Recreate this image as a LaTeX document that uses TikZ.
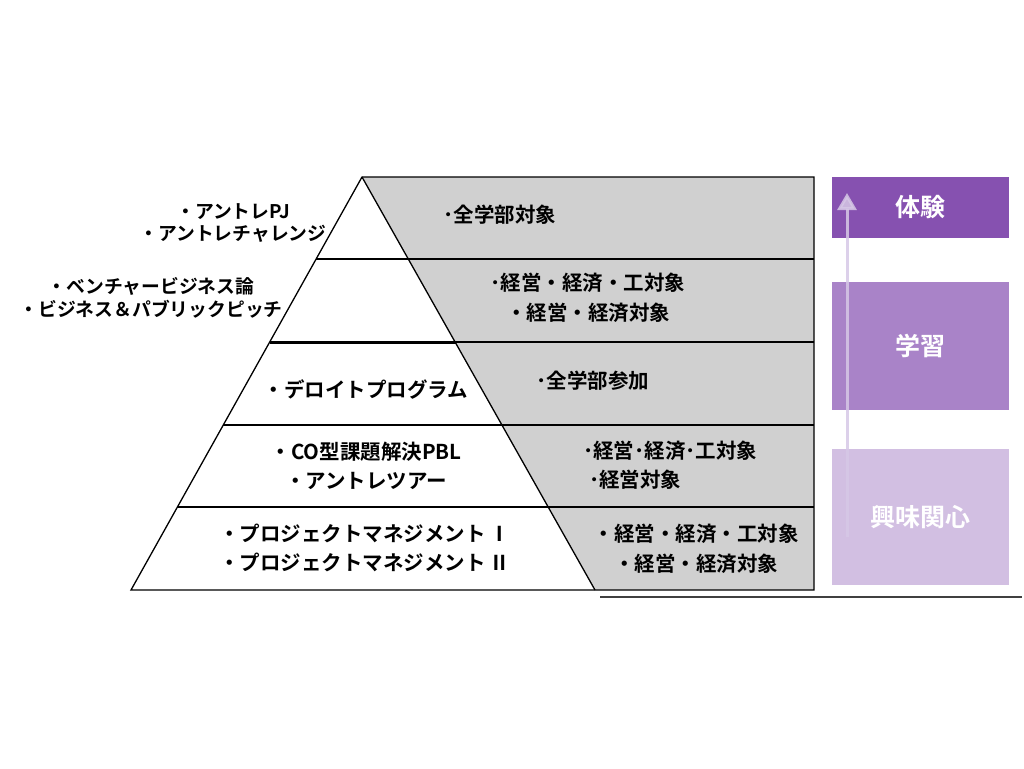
\documentclass[tikz,border=0pt]{standalone}
\usepackage{fontspec}
\setmainfont{Noto Sans CJK JP}[BoldFont={Noto Sans CJK JP Bold}]
\usetikzlibrary{arrows.meta}
\definecolor{tiergray}{HTML}{D0D0D0}
\definecolor{purpA}{HTML}{8651B0}
\definecolor{purpB}{HTML}{A983C8}
\definecolor{purpC}{HTML}{D2BFE2}
\definecolor{arrowc}{HTML}{D6C8E6}
\tikzset{
  x=1pt, y=-1pt,
  edge/.style={line width=1.3pt, black},
  lbl/.style={font=\fontsize{20.5}{29.5}\selectfont\bfseries, align=center, inner sep=0pt},
  lbls/.style={lbl, font=\fontsize{18.8}{22.8}\selectfont\bfseries},
  lbll/.style={lbl, align=left, anchor=west},
  stagelbl/.style={lbl, text=white, font=\fontsize{25}{28}\selectfont\bfseries},
}
\begin{document}
\begin{tikzpicture}
\useasboundingbox (0,0) rectangle (1024,768);
% gray region
\fill[tiergray] (362,177) -- (814,177) -- (814,590) -- (595,590) -- cycle;
% corner coordinates
\coordinate (apex) at (362,177);
\coordinate (bl) at (131,590);
\coordinate (br) at (595,590);
\coordinate (tr) at (814,177);
\coordinate (rbr) at (814,590);
% outline
\draw[edge] (apex) -- (bl) -- (rbr) -- (tr) -- cycle;
\draw[edge] (apex) -- (br);
% tier lines
\draw[edge] (315.8,259) -- (814,259);
\draw[edge] (269.6,342) -- (814,342);
\draw[line width=3pt] (269.6,342) -- (455.6,342);
\draw[edge] (223.2,425) -- (814,425);
\draw[edge] (177.4,507) -- (814,507);
% bottom shadow line
\draw[line width=1.5pt, black!75] (600,597) -- (1022,597);

% left texts
\node[lbls] (t1) at (233,223) {・アントレPJ\\・アントレチャレンジ};
\node[lbls] (t2) at (151,297.5) {・ベンチャービジネス論\\・ビジネス＆パブリックピッチ};
\node[lbl] (t3) at (366,389) {・デロイトプログラム};
\node[lbl] (t4) at (366,466) {・CO型課題解決PBL\\・アントレツアー};
\node[lbll] (t5) at (219,548) {・プロジェクトマネジメント\,Ⅰ\\・プロジェクトマネジメント\,Ⅱ};
% right texts
\node[lbl] (r1) at (500,215) {･全学部対象};
\node[lbl] (r2) at (588,298) {･経営・経済・工対象\\・経営・経済対象};
\node[lbl] (r3) at (593,381) {･全学部参加};
\node[lbll] (r4) at (583,465) {･経営･経済･工対象\\\hspace{6pt}･経営対象};
\node[lbl] (r5) at (696,549) {・経営・経済・工対象\\・経営・経済対象};

% stage boxes
\fill[purpA] (832,177) rectangle (1009,238);
\fill[purpB] (832,282) rectangle (1009,410);
\fill[purpC] (832,449) rectangle (1009,585);
\node[stagelbl] (s1) at (920.5,207.5) {体験};
\node[stagelbl] (s2) at (920.5,346) {学習};
\node[stagelbl] (s3) at (920.5,517) {興味関心};
% arrow
\coordinate (abot) at (847,537);
\coordinate (atop) at (847,193);
\draw[arrowc, opacity=0.85, line width=3pt, -{Triangle[width=19pt,length=17pt]}] (abot) -- (atop);
\end{tikzpicture}
\end{document}
